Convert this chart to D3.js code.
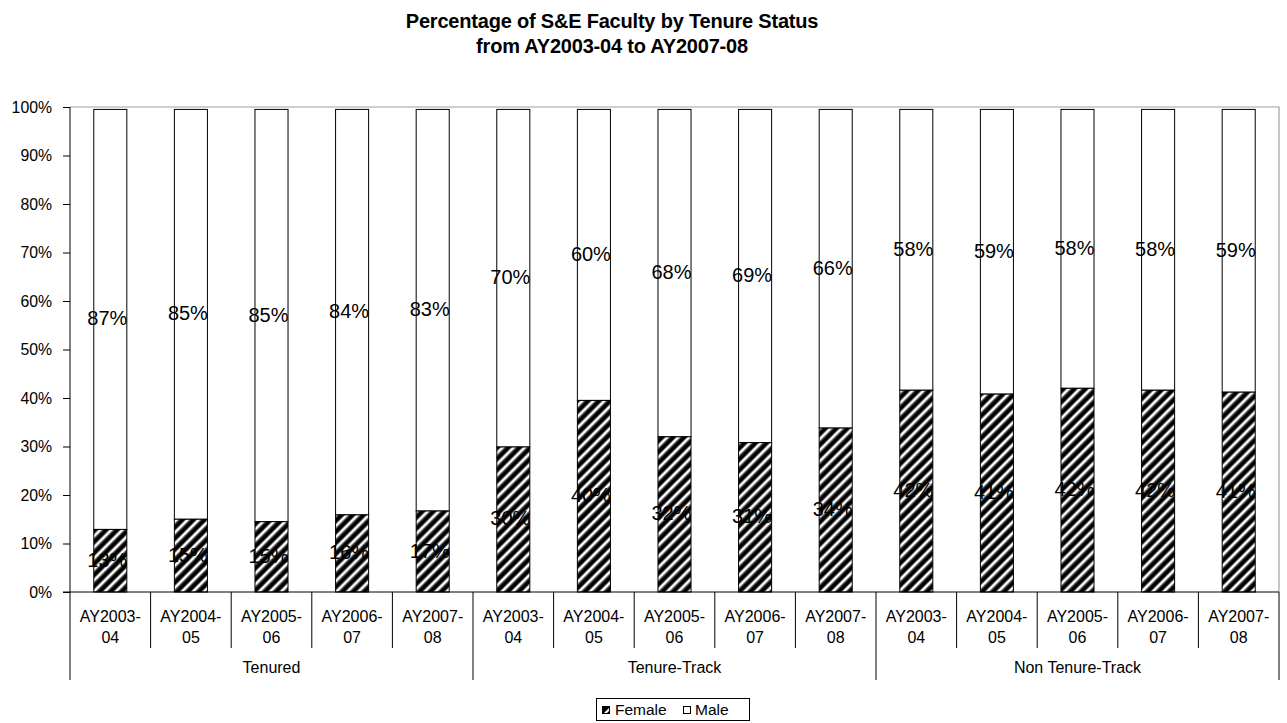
<!DOCTYPE html>
<html>
<head>
<meta charset="utf-8">
<script src="https://cdn.jsdelivr.net/npm/d3@7"></script>
<style>
  body { margin: 0; background: #fff; }
  svg { font-family: "Liberation Sans", Arial, sans-serif; }
</style>
</head>
<body>
<svg id="chart" width="1287" height="723"></svg>
<script>
const groups = ["Tenured", "Tenure-Track", "Non Tenure-Track"];
const years = [["AY2003-", "04"], ["AY2004-", "05"], ["AY2005-", "06"], ["AY2006-", "07"], ["AY2007-", "08"]];
// bar heights (percent)
const femaleValues = [12.9, 15.0, 14.5, 15.9, 16.7, 29.9, 39.5, 32.0, 30.8, 33.8, 41.6, 40.8, 42.0, 41.6, 41.2];
const maleValues   = [86.6, 84.5, 85.0, 83.6, 82.8, 69.6, 60.0, 67.5, 68.7, 65.7, 57.9, 58.7, 57.5, 57.9, 58.3];
// data labels as printed
const femaleLabels = ["13%","15%","15%","16%","17%","30%","40%","32%","31%","34%","42%","41%","42%","42%","41%"];
const maleLabels   = ["87%","85%","85%","84%","83%","70%","60%","68%","69%","66%","58%","59%","58%","58%","59%"];
const yTicks = [0, 10, 20, 30, 40, 50, 60, 70, 80, 90, 100];

(function () {
const categories = [];
groups.forEach((g, gi) => years.forEach((yr, yi) => categories.push({ id: gi * 5 + yi, group: g, year: yr })));

const svg = d3.select("#chart");
const pLeft = 70, pRight = 1279, pTop = 107, pBottom = 592;

const x = d3.scaleBand().domain(categories.map(c => c.id)).range([pLeft, pRight]).padding(0);
const y = d3.scaleLinear().domain([0, 100]).range([pBottom, pTop]);
const barW = x.bandwidth() * 0.41;

// hatch pattern
const defs = svg.append("defs");
const pat = defs.append("pattern").attr("id", "hatch").attr("patternUnits", "userSpaceOnUse")
  .attr("width", 7.8).attr("height", 7.8).attr("patternTransform", "rotate(45)");
pat.append("rect").attr("width", 7.8).attr("height", 7.8).attr("fill", "#000");
pat.append("rect").attr("x", 0).attr("y", 0).attr("width", 2.4).attr("height", 7.8).attr("fill", "#fff");
pat.append("rect").attr("x", 2.4).attr("y", 0).attr("width", 0.8).attr("height", 7.8).attr("fill", "#888");
pat.append("rect").attr("x", 7.0).attr("y", 0).attr("width", 0.8).attr("height", 7.8).attr("fill", "#888");

// title
svg.append("text").attr("x", 612).attr("y", 28).attr("text-anchor", "middle")
  .attr("font-weight", "bold").attr("font-size", 20).attr("letter-spacing", -0.2)
  .text("Percentage of S&E Faculty by Tenure Status");
svg.append("text").attr("x", 612).attr("y", 53).attr("text-anchor", "middle")
  .attr("font-weight", "bold").attr("font-size", 20).attr("letter-spacing", -0.2)
  .text("from AY2003-04 to AY2007-08");

// plot border (top & right, gray)
svg.append("path").attr("d", `M${pLeft},${pTop}H${pRight}V${pBottom}`)
  .attr("fill", "none").attr("stroke", "#a0a0a0").attr("stroke-width", 1.2);

// y axis
const yAxis = d3.axisLeft(y).tickValues(yTicks).tickFormat(d => d + "%").tickSize(7).tickPadding(11);
const yg = svg.append("g").attr("transform", `translate(${pLeft},0)`).call(yAxis);
yg.select(".domain").remove();
yg.selectAll(".tick line").attr("stroke", "#000");
yg.selectAll(".tick text").attr("font-size", 15.8).attr("fill", "#000")
  .attr("font-family", "'Liberation Sans', Arial, sans-serif");

// bars
const bars = svg.append("g");
categories.forEach((c, i) => {
  const cx = x(c.id) + x.bandwidth() / 2;
  const f = femaleValues[i], m = maleValues[i];
  bars.append("rect").attr("x", cx - barW / 2).attr("y", y(f + m)).attr("width", barW)
    .attr("height", y(f) - y(f + m)).attr("fill", "#fff").attr("stroke", "#000").attr("stroke-width", 1);
  bars.append("rect").attr("x", cx - barW / 2).attr("y", y(f)).attr("width", barW)
    .attr("height", y(0) - y(f)).attr("fill", "url(#hatch)").attr("stroke", "#000").attr("stroke-width", 1);
});

// data labels
const labels = svg.append("g").attr("font-size", 20).attr("text-anchor", "middle").attr("fill", "#000");
categories.forEach((c, i) => {
  const cx = x(c.id) + x.bandwidth() / 2 - 3;
  const f = femaleValues[i], m = maleValues[i];
  labels.append("text").attr("x", cx).attr("y", y(f + m / 2) + 6).text(maleLabels[i]);
  labels.append("text").attr("x", cx).attr("y", y(f / 2) + 6).text(femaleLabels[i]);
});

// x axis lines
const ax = svg.append("g").attr("stroke", "#000").attr("stroke-width", 1);
ax.append("line").attr("x1", pLeft - 7).attr("x2", pRight).attr("y1", pBottom).attr("y2", pBottom);
ax.append("line").attr("x1", pLeft).attr("x2", pLeft).attr("y1", pTop).attr("y2", 680);
categories.forEach((c, i) => {
  if (i === 0) return;
  const bx = x(c.id);
  ax.append("line").attr("x1", bx).attr("x2", bx).attr("y1", pBottom)
    .attr("y2", i % 5 === 0 ? 680 : 648);
});
ax.append("line").attr("x1", pRight).attr("x2", pRight).attr("y1", pBottom).attr("y2", 680);

// category labels
const cl = svg.append("g").attr("font-size", 16).attr("text-anchor", "middle").attr("fill", "#000");
categories.forEach(c => {
  const cx = x(c.id) + x.bandwidth() / 2;
  cl.append("text").attr("x", cx).attr("y", 622).text(c.year[0]);
  cl.append("text").attr("x", cx).attr("y", 643).text(c.year[1]);
});
groups.forEach((g, gi) => {
  const x0 = x(gi * 5), x1 = x(gi * 5 + 4) + x.bandwidth();
  cl.append("text").attr("x", (x0 + x1) / 2).attr("y", 673).text(g);
});

// legend
const lg = svg.append("g");
lg.append("rect").attr("x", 596.5).attr("y", 698.5).attr("width", 153).attr("height", 22)
  .attr("fill", "#fff").attr("stroke", "#000").attr("stroke-width", 1);
const lpat = defs.append("pattern").attr("id", "lhatch").attr("patternUnits", "userSpaceOnUse")
  .attr("width", 8).attr("height", 8).attr("x", 603).attr("y", 706);
lpat.append("rect").attr("width", 8).attr("height", 8).attr("fill", "#000");
lpat.append("path").attr("d", "M0,8 L3,8 L8,3 L8,0 Z").attr("fill", "#fff");
lg.append("rect").attr("x", 602.5).attr("y", 706.5).attr("width", 7).attr("height", 7)
  .attr("fill", "url(#lhatch)").attr("stroke", "#000");
lg.append("text").attr("x", 615).attr("y", 715).attr("font-size", 15.5).text("Female");
lg.append("rect").attr("x", 683.5).attr("y", 706.5).attr("width", 7).attr("height", 7)
  .attr("fill", "#fff").attr("stroke", "#000");
lg.append("text").attr("x", 695).attr("y", 715).attr("font-size", 15.5).text("Male");
})();
</script>
</body>
</html>
